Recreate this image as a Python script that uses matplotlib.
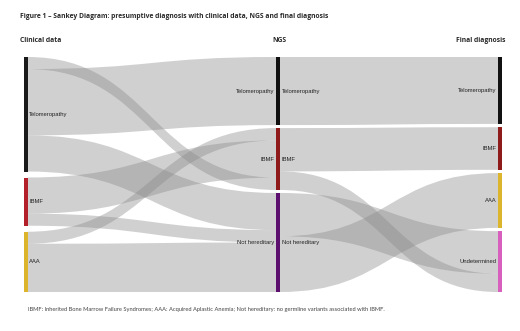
import matplotlib
matplotlib.use("Agg")
import matplotlib.pyplot as plt
from matplotlib.path import Path
from matplotlib.patches import PathPatch, Rectangle

# ---------------- data ----------------
column_titles = ["Clinical data", "NGS", "Final diagnosis"]
clinical_nodes = ["Telomeropathy", "IBMF", "AAA"]
ngs_nodes = ["Telomeropathy", "IBMF", "Not hereditary"]
final_nodes = ["Telomeropathy", "IBMF", "AAA", "Undetermined"]

# Clinical -> NGS links (listed in their order at the source node)
clin_src = ["Telomeropathy", "Telomeropathy", "Telomeropathy", "IBMF", "IBMF", "AAA", "AAA"]
clin_tgt = ["IBMF", "Telomeropathy", "Not hereditary", "IBMF", "Not hereditary", "IBMF", "Not hereditary"]
clin_val = [2, 11, 6, 6, 2, 2, 8]
# order of incoming links at NGS nodes (by source)
ngs_in_order = {"Telomeropathy": ["Telomeropathy"],
                "IBMF": ["AAA", "IBMF", "Telomeropathy"],
                "Not hereditary": ["Telomeropathy", "IBMF", "AAA"]}

# NGS -> Final links (listed in their order at the source node)
ngs_src = ["Telomeropathy", "IBMF", "IBMF", "Not hereditary", "Not hereditary"]
ngs_tgt = ["Telomeropathy", "IBMF", "Undetermined", "Undetermined", "AAA"]
ngs_val = [11, 7, 3, 7, 9]
final_in_order = {"Telomeropathy": ["Telomeropathy"], "IBMF": ["IBMF"],
                  "AAA": ["Not hereditary"], "Undetermined": ["Not hereditary", "IBMF"]}

title = "Figure 1 \u2013 Sankey Diagram: presumptive diagnosis with clinical data, NGS and final diagnosis"
footnote = ("IBMF: Inherited Bone Marrow Failure Syndromes; AAA: Acquired Aplastic Anemia; "
            "Not hereditary: no germline variants associated with IBMF.")

# ---------------- style ----------------
clin_colors = {"Telomeropathy": "#1a1a1a", "IBMF": "#b3202a", "AAA": "#dcb52c"}
ngs_colors = {"Telomeropathy": "#111111", "IBMF": "#8e1a1a", "Not hereditary": "#5c0f6e"}
final_colors = {"Telomeropathy": "#111111", "IBMF": "#8e1a1a", "AAA": "#dcb52c", "Undetermined": "#d95fbf"}
link_color = "#8a8a8a"
link_alpha = 0.4

W, H = 520, 331
top, bottom = 57, 292
col_x = [23.5, 276, 498]   # left edge of node bars
node_w = 4
col_gap = [6, 3, 3.3]

fig = plt.figure(figsize=(W / 100, H / 100), dpi=100)
ax = fig.add_axes([0, 0, 1, 1])
ax.set_xlim(0, W)
ax.set_ylim(H, 0)
ax.axis("off")


def node_totals(nodes, src, tgt, val, use_src):
    tot = {n: 0 for n in nodes}
    for s, t, v in zip(src, tgt, val):
        tot[s if use_src else t] += v
    return tot


def layout(nodes, totals, gap):
    total = sum(totals[n] for n in nodes)
    scale = (bottom - top - gap * (len(nodes) - 1)) / total
    pos = {}
    y = top
    for n in nodes:
        h = totals[n] * scale
        pos[n] = (y, h)
        y += h + gap
    return pos, scale


clin_tot = node_totals(clinical_nodes, clin_src, clin_tgt, clin_val, True)
ngs_tot = node_totals(ngs_nodes, clin_src, clin_tgt, clin_val, False)
final_tot = node_totals(final_nodes, ngs_src, ngs_tgt, ngs_val, False)

clin_pos, clin_k = layout(clinical_nodes, clin_tot, col_gap[0])
ngs_pos, ngs_k = layout(ngs_nodes, ngs_tot, col_gap[1])
final_pos, final_k = layout(final_nodes, final_tot, col_gap[2])


def draw_link(x0, y0a, y0b, x1, y1a, y1b):
    xm = (x0 + x1) / 2
    verts = [(x0, y0a), (xm, y0a), (xm, y1a), (x1, y1a),
             (x1, y1b), (xm, y1b), (xm, y0b), (x0, y0b), (x0, y0a)]
    codes = [Path.MOVETO, Path.CURVE4, Path.CURVE4, Path.CURVE4,
             Path.LINETO, Path.CURVE4, Path.CURVE4, Path.CURVE4, Path.CLOSEPOLY]
    ax.add_patch(PathPatch(Path(verts, codes), facecolor=link_color, edgecolor="none",
                           alpha=link_alpha, zorder=1))


def draw_stage(src, tgt, val, spos, sk, tpos, tk, in_order, xs, xt):
    s_off = {n: spos[n][0] for n in spos}
    t_start = {}
    for tn, order in in_order.items():
        y = tpos[tn][0]
        for sn in order:
            for s, t, v in zip(src, tgt, val):
                if s == sn and t == tn:
                    t_start[(s, t)] = y
                    y += v * tk
    for s, t, v in zip(src, tgt, val):
        y0 = s_off[s]
        s_off[s] += v * sk
        y1 = t_start[(s, t)]
        draw_link(xs, y0, y0 + v * sk, xt, y1, y1 + v * tk)


draw_stage(clin_src, clin_tgt, clin_val, clin_pos, clin_k, ngs_pos, ngs_k,
           ngs_in_order, col_x[0] + node_w, col_x[1])
draw_stage(ngs_src, ngs_tgt, ngs_val, ngs_pos, ngs_k, final_pos, final_k,
           final_in_order, col_x[1] + node_w, col_x[2])

lab_font = dict(family=["Liberation Sans", "DejaVu Sans"], fontsize=4.2, color="#222222", zorder=3)


def draw_nodes(pos, colors, x, side):
    for n, (y, h) in pos.items():
        ax.add_patch(Rectangle((x, y), node_w, h, facecolor=colors[n], edgecolor="none", zorder=2))
        yc = y + h / 2
        if side in ("right", "both"):
            ax.text(x + node_w + 1.5, yc, n, ha="left", va="center", **lab_font)
        if side in ("left", "both"):
            ax.text(x - 1.5, yc, n, ha="right", va="center", **lab_font)


draw_nodes(clin_pos, clin_colors, col_x[0], "right")
draw_nodes(ngs_pos, ngs_colors, col_x[1], "both")
draw_nodes(final_pos, final_colors, col_x[2], "left")

hdr_font = dict(family=["Open Sans", "DejaVu Sans"], fontsize=4.85, fontweight="bold", color="#2a2a2a")
ax.text(20, 17, title, ha="left", va="center", **hdr_font)
ax.text(20, 40, column_titles[0], ha="left", va="center", **hdr_font)
ax.text(272, 40, column_titles[1], ha="left", va="center", **hdr_font)
ax.text(505, 40, column_titles[2], ha="right", va="center", **hdr_font)
ax.text(28, 310, footnote, ha="left", va="center",
        family=["Lato", "DejaVu Sans"], fontsize=4.15, color="#444444")

fig.savefig("out.png", dpi=100)
